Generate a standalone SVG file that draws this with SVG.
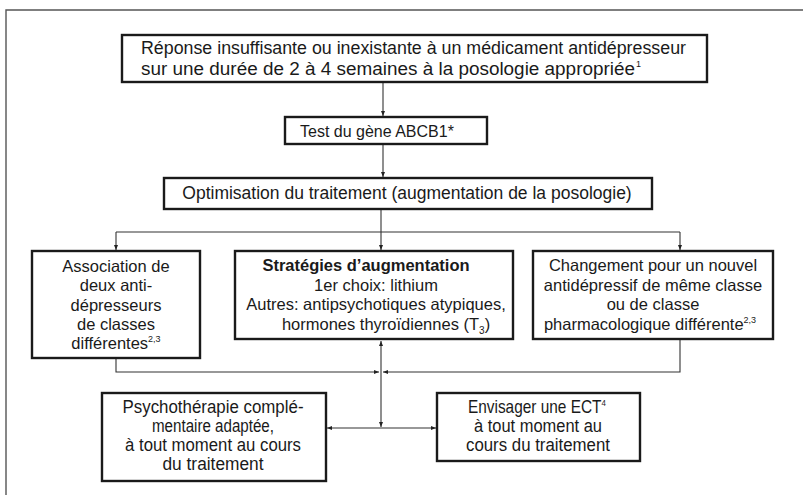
<svg xmlns="http://www.w3.org/2000/svg" width="803" height="495" viewBox="0 0 803 495">
<defs>
<style>
.box{fill:#fff;stroke:#1a1a1a;stroke-width:2.4}
.t{font-family:"Liberation Sans",Arial,sans-serif;fill:#1a1a1a}
.c{text-anchor:middle}
.n{font-size:16.5px}
.k{font-size:17.5px}
.sup{font-size:9px}
.ln{fill:none;stroke:#333;stroke-width:1.1}
.frame{fill:none;stroke:#555;stroke-width:1.4}
</style>
<marker id="ah" viewBox="0 0 10 10" refX="10" refY="5" markerWidth="5" markerHeight="5" orient="auto-start-reverse" markerUnits="userSpaceOnUse">
<path d="M0,1 L10,5 L0,9 z" fill="#222"/>
</marker>
</defs>
<rect width="803" height="495" fill="#fff"/>
<path class="frame" d="M803,10 H6 V495"/>

<g id="connectors">
<path class="ln" d="M383,83 V116" marker-end="url(#ah)"/>
<path class="ln" d="M383,145 V177" marker-end="url(#ah)"/>
<path class="ln" d="M381,210 V250" marker-end="url(#ah)"/>
<path class="ln" d="M116,232 H680"/>
<path class="ln" d="M116,232 V250" marker-end="url(#ah)"/>
<path class="ln" d="M680,232 V250" marker-end="url(#ah)"/>
<path class="ln" d="M116,359 V372 H379" marker-end="url(#ah)"/>
<path class="ln" d="M680,340 V372 H383" marker-end="url(#ah)"/>
<path class="ln" d="M381,341 V427" marker-start="url(#ah)" marker-end="url(#ah)"/>
<path class="ln" d="M327,428 H436" marker-start="url(#ah)" marker-end="url(#ah)"/>
</g>

<g id="node-reponse">
<rect class="box" x="122" y="35" width="585" height="47"/>
<text class="t k" x="141" y="54" textLength="545" lengthAdjust="spacingAndGlyphs">Réponse insuffisante ou inexistante à un médicament antidépresseur</text>
<text class="t k" x="141" y="75" textLength="494" lengthAdjust="spacingAndGlyphs">sur une durée de 2 à 4 semaines à la posologie appropriée</text>
<text class="t sup" x="636" y="67">1</text>
</g>

<g id="node-test">
<rect class="box" x="285" y="117" width="202" height="27"/>
<text class="t" x="300" y="137" font-size="16">Test du gène ABCB1*</text>
</g>

<g id="node-optim">
<rect class="box" x="164" y="178" width="488" height="31"/>
<text class="t c" x="407" y="199" font-size="17.5">Optimisation du traitement (augmentation de la posologie)</text>
</g>

<g id="node-association">
<rect class="box" x="32" y="251" width="168" height="107"/>
<text class="t c n" x="116" y="272">Association de</text>
<text class="t c n" x="116" y="291">deux anti-</text>
<text class="t c n" x="116" y="311">dépresseurs</text>
<text class="t c n" x="116" y="330">de classes</text>
<text class="t c n" x="116" y="349">différentes<tspan class="sup" dy="-7">2,3</tspan></text>
</g>

<g id="node-augmentation">
<rect class="box" x="235" y="251" width="278" height="88"/>
<text class="t c n" x="366" y="271" font-weight="bold">Stratégies d’augmentation</text>
<text class="t c n" x="376" y="291">1er choix: lithium</text>
<text class="t c n" x="376" y="310">Autres: antipsychotiques atypiques,</text>
<text class="t c n" x="386" y="330">hormones thyroïdiennes (T<tspan font-size="10" dy="4">3</tspan><tspan dy="-4">)</tspan></text>
</g>

<g id="node-changement">
<rect class="box" x="533" y="251" width="240" height="88"/>
<text class="t c n" x="653" y="271">Changement pour un nouvel</text>
<text class="t c n" x="653" y="291">antidépressif de même classe</text>
<text class="t c n" x="653" y="310">ou de classe</text>
<text class="t c n" x="650" y="330">pharmacologique différente<tspan class="sup" dy="-7">2,3</tspan></text>
</g>

<g id="node-psychotherapie">
<rect class="box" x="102" y="393" width="224" height="88"/>
<text class="t c k" x="213" y="413" textLength="181" lengthAdjust="spacingAndGlyphs">Psychothérapie complé-</text>
<text class="t c k" x="213" y="432" textLength="122" lengthAdjust="spacingAndGlyphs">mentaire adaptée,</text>
<text class="t c k" x="213" y="451" textLength="176" lengthAdjust="spacingAndGlyphs">à tout moment au cours</text>
<text class="t c k" x="213" y="470" textLength="101" lengthAdjust="spacingAndGlyphs">du traitement</text>
</g>

<g id="node-ect">
<rect class="box" x="437" y="393" width="203" height="68"/>
<text class="t k" transform="translate(468,413) scale(0.88,1)">Envisager une ECT<tspan class="sup" dy="-7">4</tspan></text>
<text class="t c k" x="538" y="432" textLength="128" lengthAdjust="spacingAndGlyphs">à tout moment au</text>
<text class="t c k" x="538" y="451" textLength="144" lengthAdjust="spacingAndGlyphs">cours du traitement</text>
</g>
</svg>
